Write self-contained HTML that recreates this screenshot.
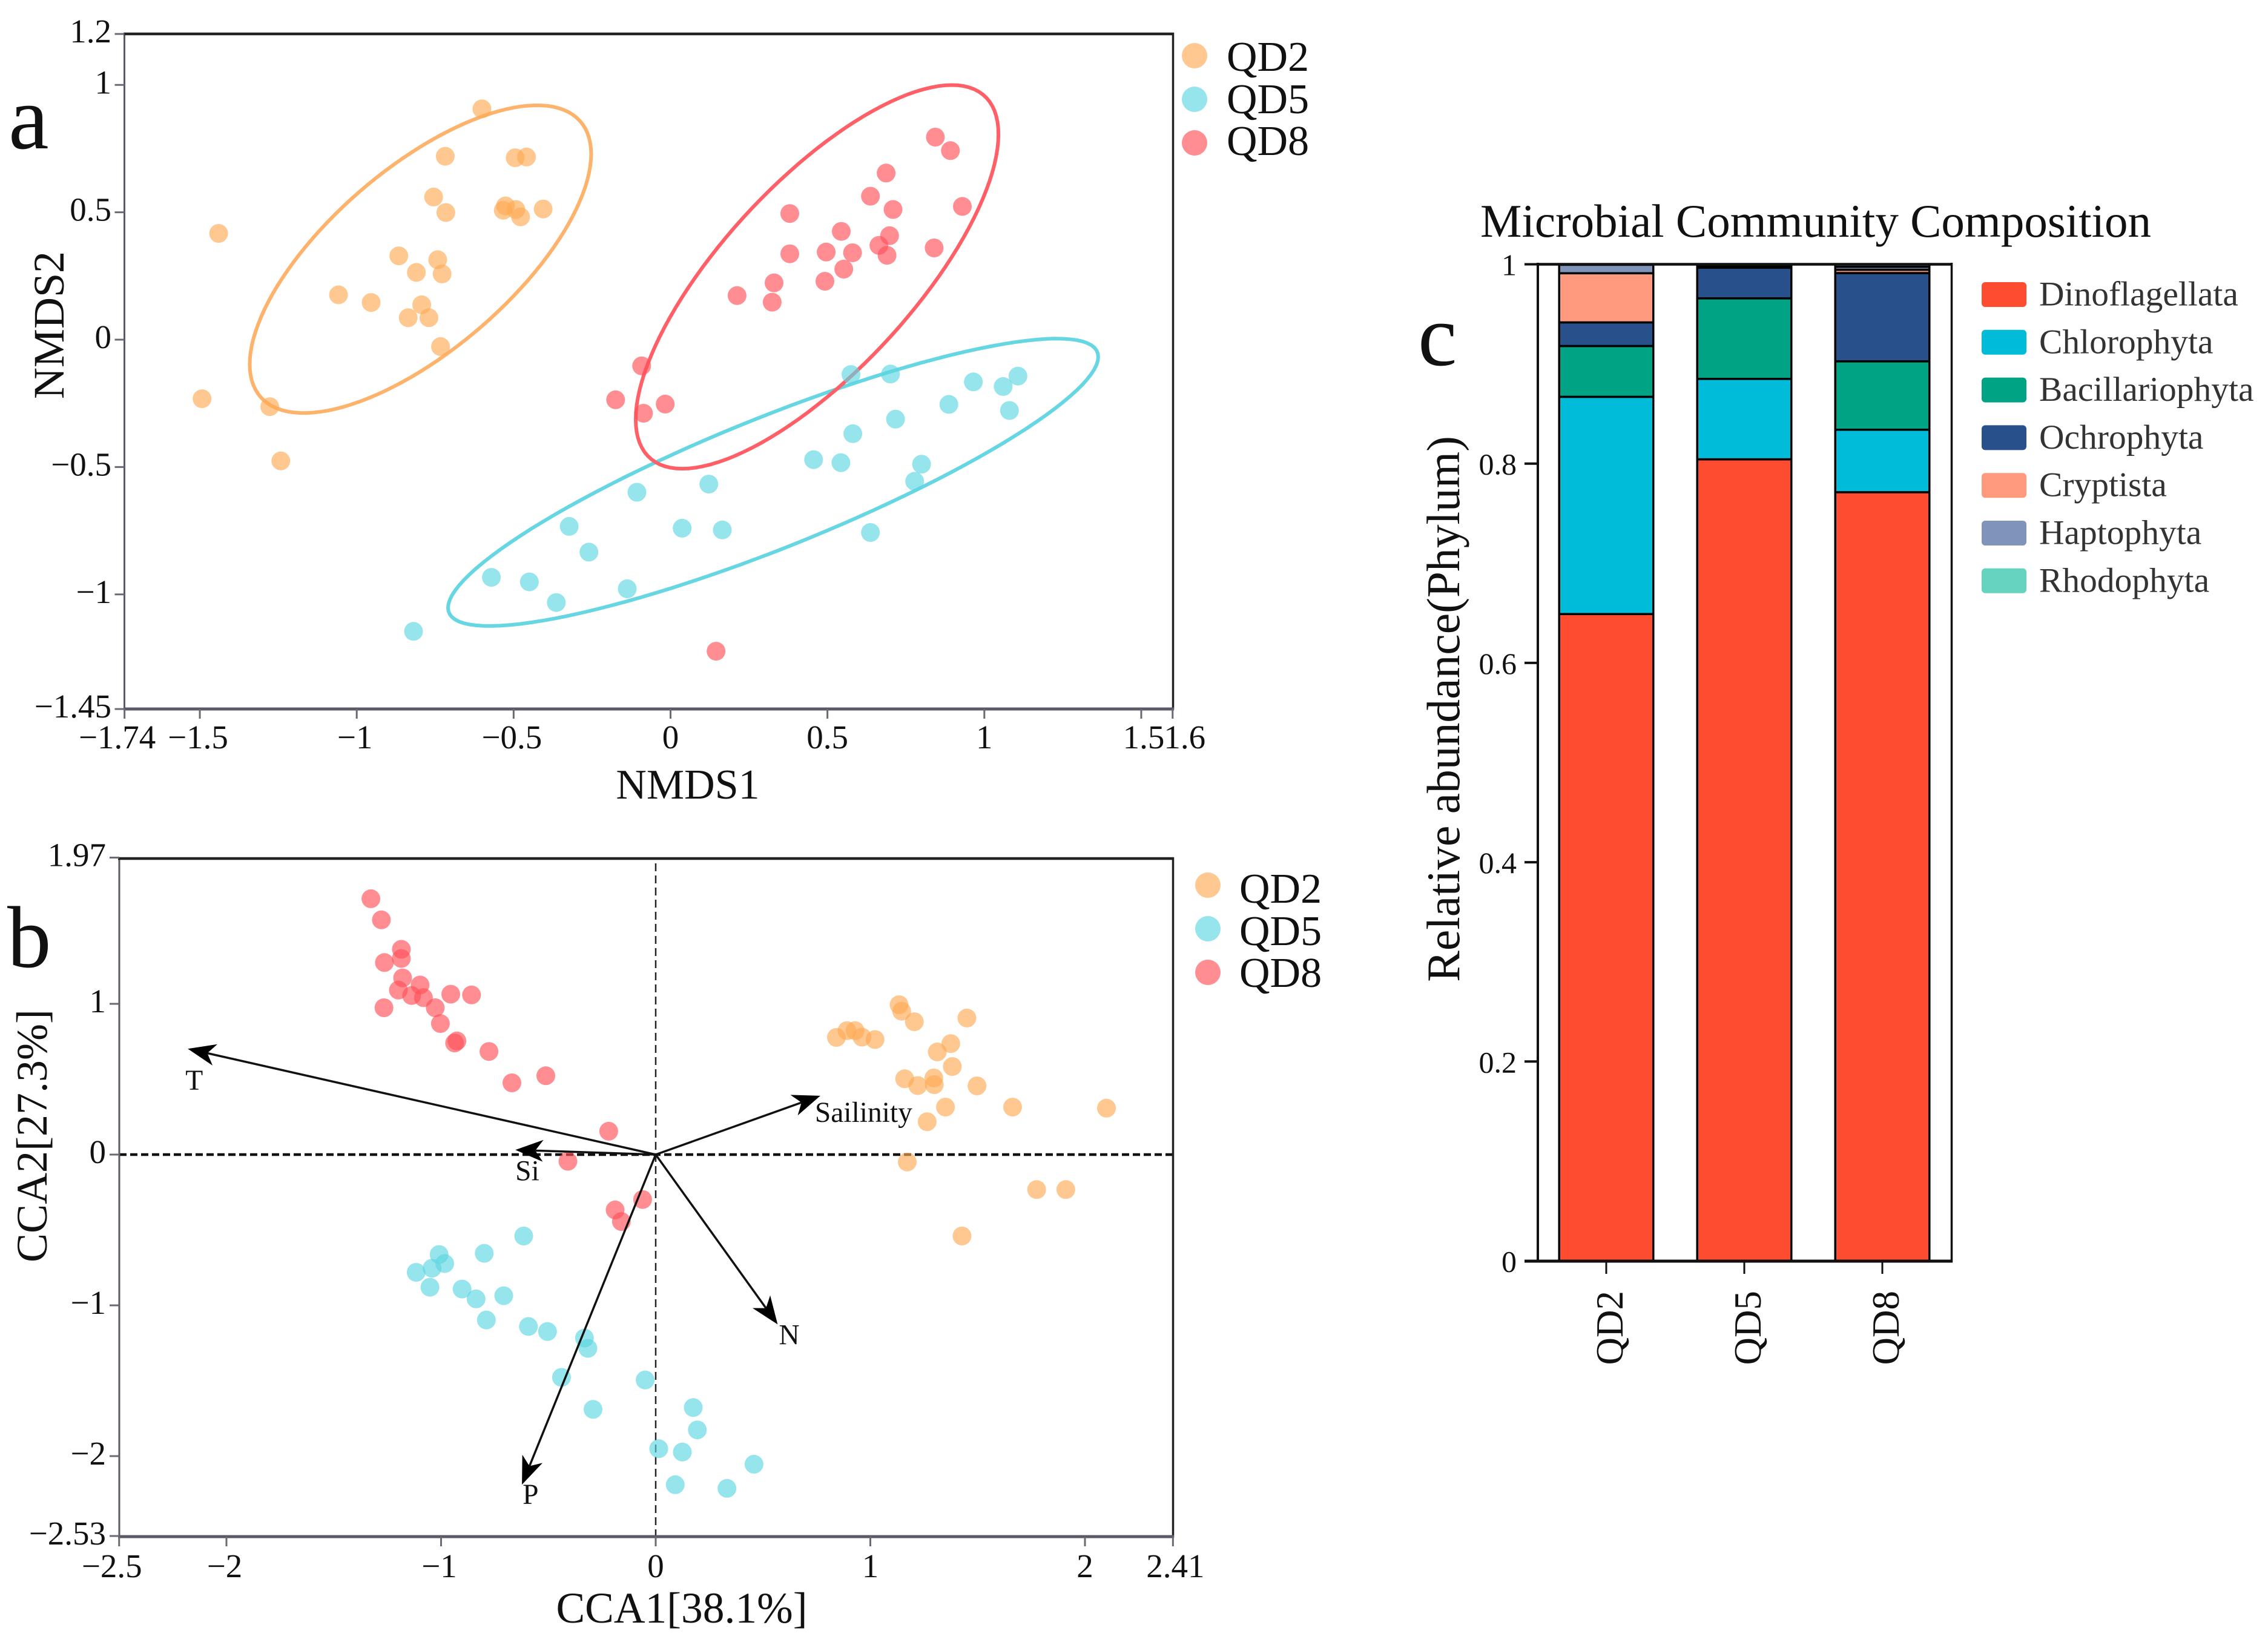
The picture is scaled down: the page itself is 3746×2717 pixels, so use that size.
<!DOCTYPE html>
<html lang="en">
<head>
<meta charset="utf-8">
<title>Microbial community ordination and composition</title>
<style>
html,body{margin:0;padding:0;background:#fff;}
svg{display:block;}
text{font-family:"Liberation Serif",serif;fill:#111;}
</style>
</head>
<body>
<svg id="figure" xmlns="http://www.w3.org/2000/svg" width="3746" height="2717" viewBox="0 0 3746 2717">
<rect x="0" y="0" width="3746" height="2717" fill="#ffffff"/>

<g id="panel-a">
<text x="14" y="245" font-size="150">a</text>
<g id="a-marks"></g>
<line x1="205.5" y1="54" x2="205.5" y2="1172" stroke="#5a5a66" stroke-width="3"/>
<line x1="204" y1="56" x2="1939" y2="56" stroke="#222" stroke-width="4.5"/>
<line x1="1937.5" y1="54" x2="1937.5" y2="1172" stroke="#222" stroke-width="3.5"/>
<line x1="204" y1="1171" x2="1939" y2="1171" stroke="#5a5a66" stroke-width="5"/>
<g id="a-ticks"></g>
<text x="1136" y="1319" font-size="70" text-anchor="middle">NMDS1</text>
<text x="0" y="0" font-size="72" text-anchor="middle" transform="translate(105 537) rotate(-90)">NMDS2</text>
<g>
<circle cx="1973" cy="92" r="21" fill="#FDAA55" fill-opacity="0.65"/>
<circle cx="1973" cy="164" r="21" fill="#5DD5E2" fill-opacity="0.65"/>
<circle cx="1973" cy="236" r="21" fill="#FF5057" fill-opacity="0.65"/>
<text x="2026" y="117" font-size="70">QD2</text>
<text x="2026" y="187" font-size="70">QD5</text>
<text x="2026" y="256" font-size="70">QD8</text>
</g>
</g>

<g id="panel-b">
<text x="12" y="1597" font-size="145">b</text>
<line x1="1083" y1="1426" x2="1083" y2="2538" stroke="#222" stroke-width="2.5" stroke-dasharray="13 7"/>
<line x1="197" y1="1907" x2="1937" y2="1907" stroke="#111" stroke-width="4.5" stroke-dasharray="12 6"/>
<g id="b-marks"></g>
<line x1="197" y1="1416" x2="197" y2="2540" stroke="#5a5a66" stroke-width="3"/>
<line x1="195" y1="1418" x2="1939" y2="1418" stroke="#222" stroke-width="4.5"/>
<line x1="1937.5" y1="1416" x2="1937.5" y2="2540" stroke="#222" stroke-width="3.5"/>
<line x1="195" y1="2538" x2="1939" y2="2538" stroke="#5a5a66" stroke-width="5"/>
<g id="b-ticks"></g>
<text x="1126" y="2680" font-size="71.5" text-anchor="middle">CCA1[38.1%]</text>
<text x="0" y="0" font-size="72" text-anchor="middle" transform="translate(77 1876) rotate(-90)">CCA2[27.3%]</text>
<g>
<circle cx="1995" cy="1462" r="21" fill="#FDAA55" fill-opacity="0.65"/>
<circle cx="1995" cy="1534" r="21" fill="#5DD5E2" fill-opacity="0.65"/>
<circle cx="1995" cy="1606" r="21" fill="#FF5057" fill-opacity="0.65"/>
<text x="2047" y="1491" font-size="70">QD2</text>
<text x="2047" y="1561" font-size="70">QD5</text>
<text x="2047" y="1630" font-size="70">QD8</text>
</g>
</g>

<g id="panel-c">
<text x="2342" y="603" font-size="145">c</text>
<text x="2445" y="391" font-size="77">Microbial Community Composition</text>
<g id="c-bars"></g>
<line x1="2540" y1="434" x2="2540" y2="2085" stroke="#111" stroke-width="4"/>
<line x1="3223.5" y1="434" x2="3223.5" y2="2085" stroke="#111" stroke-width="3.5"/>
<line x1="2538" y1="436.5" x2="3225" y2="436.5" stroke="#111" stroke-width="4.5"/>
<line x1="2518" y1="2083" x2="3225" y2="2083" stroke="#111" stroke-width="5"/>
<g id="c-ticks"></g>
<text x="0" y="0" font-size="77.5" text-anchor="middle" transform="translate(2410 1171) rotate(-90)">Relative abundance(Phylum)</text>
<g id="c-legend"></g>
</g>
</svg>

<script>
// ---- shared categories ----
const groupNames = ['QD2', 'QD5', 'QD8'];
const groupFill = ['#FDAA55', '#5DD5E2', '#FF5057'];
const groupStroke = ['#FDB36C', '#66D6E3', '#FF5F66'];

// ---- panel a: NMDS scores ----
const nmdsQd2X = [-0.601,-0.718,-0.495,-0.459,-0.755,-0.716,-0.526,-0.533,-0.493,-0.478,-0.406,-1.440,-0.866,-0.742,-0.810,-0.728,-1.058,-0.954,-0.793,-0.836,-0.770,-0.733,-1.493,-1.277,-1.242];
const nmdsQd2Y = [0.906,0.720,0.714,0.717,0.560,0.499,0.525,0.508,0.511,0.482,0.513,0.417,0.329,0.314,0.264,0.258,0.176,0.146,0.137,0.086,0.086,-0.027,-0.232,-0.263,-0.476];
const nmdsQd5X = [-0.819,-0.571,-0.450,-0.364,-0.323,-0.260,-0.138,-0.107,0.037,0.165,0.122,0.637,0.778,0.800,0.456,0.543,0.581,0.717,0.887,1.080,0.575,0.701,0.965,1.060,1.107];
const nmdsQd5Y = [-1.145,-0.933,-0.951,-1.032,-0.733,-0.834,-0.978,-0.599,-0.740,-0.747,-0.567,-0.757,-0.556,-0.489,-0.471,-0.483,-0.369,-0.312,-0.254,-0.278,-0.137,-0.135,-0.166,-0.184,-0.143];
const nmdsQd8X = [0.844,0.892,0.687,0.637,0.709,0.930,0.380,0.544,0.698,0.664,0.690,0.840,0.380,0.496,0.580,0.552,0.492,0.330,0.212,0.324,-0.092,-0.175,-0.017,-0.086,0.145];
const nmdsQd8Y = [0.795,0.742,0.654,0.563,0.511,0.523,0.495,0.425,0.408,0.370,0.331,0.360,0.337,0.344,0.341,0.277,0.229,0.223,0.173,0.147,-0.103,-0.236,-0.253,-0.289,-1.223];

// confidence ellipses, one entry per group
const ellipseCenterX = [-0.797, 0.327, 0.467];
const ellipseCenterY = [0.316, -0.560, 0.2465];
const ellipseHalfWidth = [0.544, 1.036, 0.578];
const ellipseHalfHeight = [0.604, 0.564, 0.753];
const ellipseCorrelation = [0.683, 0.873, 0.743];

const nmdsXTicks = [-1.74,-1.5,-1,-0.5,0,0.5,1,1.5,1.6];
const nmdsYTicks = [1.2,1,0.5,0,-0.5,-1,-1.45];

// ---- panel b: CCA scores ----
const ccaQd2X = [1.134,1.146,1.205,1.450,0.842,0.891,0.929,0.961,1.022,1.375,1.312,1.382,1.160,1.221,1.296,1.298,1.497,1.350,1.663,2.100,1.265,1.172,1.775,1.911,1.427];
const ccaQd2Y = [0.994,0.951,0.881,0.906,0.777,0.822,0.822,0.779,0.763,0.736,0.681,0.584,0.503,0.458,0.508,0.464,0.456,0.315,0.315,0.308,0.218,-0.049,-0.232,-0.232,-0.540];
const ccaQd5X = [-0.615,-0.799,-1.009,-0.983,-1.042,-1.116,-1.052,-0.902,-0.837,-0.708,-0.789,-0.593,-0.504,-0.332,-0.316,-0.439,-0.049,-0.292,0.014,0.175,0.194,0.124,0.458,0.091,0.332];
const ccaQd5Y = [-0.540,-0.655,-0.663,-0.723,-0.754,-0.781,-0.880,-0.892,-0.957,-0.936,-1.097,-1.140,-1.174,-1.217,-1.285,-1.478,-1.495,-1.690,-1.951,-1.678,-1.826,-1.973,-2.054,-2.190,-2.214];
const ccaQd8X = [-1.327,-1.278,-1.185,-1.185,-1.264,-1.179,-1.098,-1.199,-1.137,-1.082,-0.955,-0.858,-1.266,-1.027,-1.003,-0.926,-0.937,-0.777,-0.670,-0.512,-0.219,-0.409,-0.061,-0.189,-0.160];
const ccaQd8Y = [1.697,1.557,1.362,1.301,1.274,1.172,1.125,1.091,1.055,1.041,1.064,1.059,0.974,0.974,0.869,0.754,0.740,0.684,0.476,0.523,0.155,-0.044,-0.298,-0.367,-0.444];

const arrowNames = ['T', 'Si', 'Sailinity', 'N', 'P'];
const arrowX = [-2.180, -0.654, 0.767, 0.568, -0.623];
const arrowY = [0.702, 0.031, 0.390, -1.126, -2.189];

const ccaXTicks = [-2.5,-2,-1,0,1,2,2.41];
const ccaYTicks = [1.97,1,0,-1,-2,-2.53];

// ---- panel c: relative abundance ----
const phylumNames = ['Dinoflagellata','Chlorophyta','Bacillariophyta','Ochrophyta','Cryptista','Haptophyta','Rhodophyta'];
const phylumColors = ['#FE4C30','#00BCD8','#00A383','#28508A','#FF9A7E','#8093B9','#66D2C0'];
const dinoflagellata = [0.649, 0.8043, 0.7713];
const chlorophyta = [0.218, 0.0807, 0.0627];
const bacillariophyta = [0.051, 0.0808, 0.0686];
const ochrophyta = [0.0237, 0.0308, 0.0886];
const cryptista = [0.0493, 0.001, 0.0033];
const haptophyta = [0.0085, 0.001, 0.003];
const rhodophyta = [0.0005, 0.0014, 0.0025];
const compYTicks = [0,0.2,0.4,0.6,0.8,1];

// ---- axis functions ----
const xA = v => 1107.5 + 518.3 * v;
const yA = v => 561 - 420.75 * v;
const xB = v => 1083 + 354.5 * v;
const yB = v => 1907 - 249 * v;
const yC = v => 2082.5 - 1646 * v;
const bandC = i => 2653 + 228 * i;

const NS = 'http://www.w3.org/2000/svg';
function make(parentId, tag, props, text) {
  const el = document.createElementNS(NS, tag);
  for (const k in props) el.setAttribute(k, props[k]);
  if (text !== undefined) el.textContent = text;
  document.getElementById(parentId).appendChild(el);
  return el;
}
const fmt = v => String(v).replace('-', '\u2212');

function drawEllipses() {
  groupNames.forEach((name, g) => {
    const rho = ellipseCorrelation[g];
    const q = Math.sqrt(1 - rho * rho);
    let d = '';
    for (let deg = 0; deg < 360; deg += 3) {
      const t = deg * Math.PI / 180;
      const vx = ellipseCenterX[g] + ellipseHalfWidth[g] * Math.cos(t);
      const vy = ellipseCenterY[g] + ellipseHalfHeight[g] * (rho * Math.cos(t) + q * Math.sin(t));
      d += (deg === 0 ? 'M' : 'L') + xA(vx).toFixed(1) + ' ' + yA(vy).toFixed(1);
    }
    const el = make('a-marks', 'path', { d: d + 'Z', fill: 'none', stroke: groupStroke[g], 'stroke-width': 6 });
    
    
  });
}

function drawDots(parent, prefix, xs, ys, sx, sy, g) {
  xs.forEach((v, i) => {
    const el = make(parent, 'circle', { cx: sx(v).toFixed(1), cy: sy(ys[i]).toFixed(1), r: 15.5, fill: groupFill[g], 'fill-opacity': 0.65 });
    
    
  });
}

function drawTicks(parent, prefix, xTicks, yTicks, sx, sy, axisLeft, axisBottom, labelRight, baseY, firstShift, lastShift) {
  xTicks.forEach((v, i) => {
    const px = sx(v);
    const line = make(parent, 'line', { x1: px, x2: px, y1: axisBottom, y2: axisBottom + 16, stroke: '#6a6a74', 'stroke-width': 3 });
    
    
    let shift = v < 0 ? -3 : 0;
    if (i === 0) shift = firstShift;
    if (i === xTicks.length - 1) shift = lastShift;
    if (i === xTicks.length - 2 && lastShift > 10) shift = 4;
    const label = make(parent, 'text', { x: px + shift, y: baseY, 'font-size': 55, 'text-anchor': 'middle' }, fmt(v));
    
    
  });
  yTicks.forEach(v => {
    const py = sy(v);
    const line = make(parent, 'line', { x1: axisLeft - 16, x2: axisLeft, y1: py, y2: py, stroke: '#6a6a74', 'stroke-width': 3 });
    
    
    const label = make(parent, 'text', { x: labelRight, y: py + 14, 'font-size': 55, 'text-anchor': 'end' }, fmt(v));
    
    
  });
}

function drawArrows() {
  const labelOffset = { T: [-4, 68], Si: [0, 50], Sailinity: [-9, 43], N: [2, 33], P: [1, 32] };
  const ox = xB(0), oy = yB(0);
  arrowNames.forEach((name, i) => {
    const tx = xB(arrowX[i]), ty = yB(arrowY[i]);
    const len = Math.hypot(tx - ox, ty - oy);
    const ux = (tx - ox) / len, uy = (ty - oy) / len;
    const L = 46, W = 18, notch = 33;
    const nx = tx - ux * notch, ny = ty - uy * notch;
    const line = make('b-marks', 'line', { x1: ox, y1: oy, x2: nx, y2: ny, stroke: '#111', 'stroke-width': 3.5 });
    
    
    const bx = tx - ux * L, by = ty - uy * L;
    const pts = [[tx, ty], [bx - uy * W, by + ux * W], [nx, ny], [bx + uy * W, by - ux * W]];
    const head = make('b-marks', 'polygon', { points: pts.map(p => p[0].toFixed(1) + ',' + p[1].toFixed(1)).join(' '), fill: '#000' });
    
    
    const off = labelOffset[name];
    const label = make('b-marks', 'text', { x: tx + off[0], y: ty + off[1], 'font-size': 47.5 }, name);
    
    
  });
}

function drawBars() {
  const seriesList = [dinoflagellata, chlorophyta, bacillariophyta, ochrophyta, cryptista, haptophyta, rhodophyta];
  const barWidth = 155.5;
  groupNames.forEach((name, c) => {
    let base = 0;
    seriesList.forEach((series, s) => {
      const top = base + series[c];
      const rect = make('c-bars', 'rect', {
        x: bandC(c) - barWidth / 2, y: yC(top), width: barWidth,
        height: Math.max(0, yC(base) - yC(top)),
        fill: phylumColors[s], stroke: '#000', 'stroke-width': 3.5
      });
      
      
      base = top;
    });
  });
}

function drawCompositionAxes() {
  compYTicks.forEach(v => {
    const py = yC(v);
    const line = make('c-ticks', 'line', { x1: 2518, x2: 2540, y1: py, y2: py, stroke: '#111', 'stroke-width': 4 });
    
    
    const label = make('c-ticks', 'text', { x: 2505, y: py + 18, 'font-size': 50, 'text-anchor': 'end' }, String(v));
    
    
  });
  groupNames.forEach((name, c) => {
    const px = bandC(c);
    const line = make('c-ticks', 'line', { x1: px, x2: px, y1: 2084, y2: 2104, stroke: '#111', 'stroke-width': 3 });
    
    
    const label = make('c-ticks', 'text', { x: 0, y: 0, 'font-size': 63, 'text-anchor': 'end', transform: 'translate(' + (px + 27) + ' 2132) rotate(-90)' }, name);
    
    
  });
}

function drawCompositionLegend() {
  phylumNames.forEach((name, i) => {
    const cy = 486.5 + i * 78.8;
    const swatch = make('c-legend', 'rect', { x: 3273, y: cy - 20.5, width: 74, height: 41, rx: 6, fill: phylumColors[i] });
    
    
    const label = make('c-legend', 'text', { x: 3368, y: cy + 18, 'font-size': 57.5, style: 'fill:#333' }, name);
    
    
  });
}

drawEllipses();
drawDots('a-marks', 'nmds', nmdsQd2X, nmdsQd2Y, xA, yA, 0);
drawDots('a-marks', 'nmds', nmdsQd5X, nmdsQd5Y, xA, yA, 1);
drawDots('a-marks', 'nmds', nmdsQd8X, nmdsQd8Y, xA, yA, 2);
drawTicks('a-ticks', 'nmds', nmdsXTicks, nmdsYTicks, xA, yA, 205.5, 1171, 184, 1236, -12, 20);

drawDots('b-marks', 'cca', ccaQd2X, ccaQd2Y, xB, yB, 0);
drawDots('b-marks', 'cca', ccaQd5X, ccaQd5Y, xB, yB, 1);
drawDots('b-marks', 'cca', ccaQd8X, ccaQd8Y, xB, yB, 2);
drawArrows();
drawTicks('b-ticks', 'cca', ccaXTicks, ccaYTicks, xB, yB, 197, 2538, 175, 2605, -12, 4);

drawBars();
drawCompositionAxes();
drawCompositionLegend();
</script>
</body>
</html>
